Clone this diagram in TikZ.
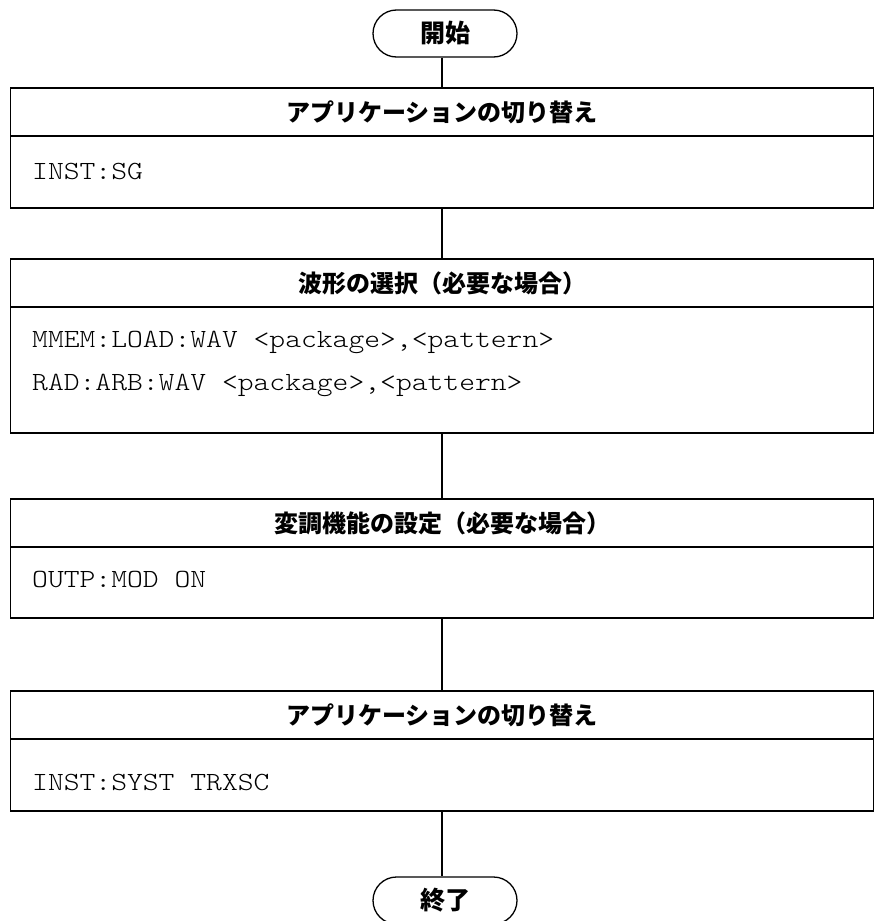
\documentclass[tikz,border=0pt]{standalone}
\usepackage{fontspec}
\newfontfamily\cjk{Noto Sans CJK JP}
\newfontfamily\mono[FakeStretch=1.15]{Latin Modern Mono Light}
\begin{document}
\begin{tikzpicture}[x=1pt,y=-1pt,
  hdr/.style={draw, line width=1.6pt, minimum width=863pt, minimum height=48pt, inner sep=0pt, font=\cjk\bfseries\fontsize{24}{26}\selectfont},
  body/.style={draw, line width=1.6pt, minimum width=863pt, inner sep=0pt},
  cmd/.style={anchor=base west, inner sep=0pt, font=\mono\fontsize{26.2}{30}\selectfont, text=black},
  term/.style={draw, line width=1.3pt, rounded corners=23.5pt, minimum width=144pt, minimum height=47pt, inner sep=0pt, font=\cjk\bfseries\fontsize{25}{28}\selectfont},
  conn/.style={line width=1.3pt}]
\useasboundingbox (0,0) rectangle (874,921);

\node[term] (st) at (445,33.5) {開始};

\node[hdr] (h1) at (442,112) {アプリケーションの切り替え};
\node[body, minimum height=72pt] (b1) at (442,172) {};
\node[cmd] (t1) at (32,179.5) {INST:SG};

\node[hdr] (h2) at (442,283) {波形の選択（必要な場合）};
\node[body, minimum height=126pt] (b2) at (442,370) {};
\node[cmd] (t2a) at (32,347.5) {MMEM:LOAD:WAV <package>,<pattern>};
\node[cmd] (t2b) at (32,390.5) {RAD:ARB:WAV <package>,<pattern>};

\node[hdr] (h3) at (442,523) {変調機能の設定（必要な場合）};
\node[body, minimum height=71pt] (b3) at (442,582.5) {};
\node[cmd] (t3) at (32,587.5) {OUTP:MOD ON};

\node[hdr] (h4) at (442,715) {アプリケーションの切り替え};
\node[body, minimum height=72pt] (b4) at (442,775) {};
\node[cmd] (t4) at (32,790.5) {INST:SYST TRXSC};

\node[term] (en) at (445,900.5) {終了};

\draw[conn] (st.south -| h1.north) -- (h1.north);
\draw[conn] (b1.south) -- (h2.north);
\draw[conn] (b2.south) -- (h3.north);
\draw[conn] (b3.south) -- (h4.north);
\draw[conn] (b4.south) -- (b4.south |- en.north);
\end{tikzpicture}
\end{document}
